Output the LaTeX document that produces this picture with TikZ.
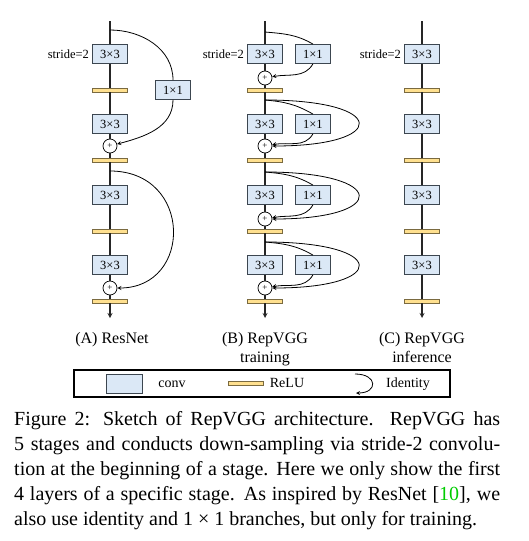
\documentclass[tikz,border=0pt]{standalone}
\usepackage{fontspec}
\setmainfont{Liberation Serif}
\usetikzlibrary{positioning}
\definecolor{convfill}{HTML}{DBE8F6}
\definecolor{convline}{HTML}{3C4650}
\definecolor{relufill}{HTML}{FFE08F}
\definecolor{reluline}{HTML}{7A6A40}
\definecolor{citegreen}{HTML}{00CC00}

\begin{document}
\begin{tikzpicture}[x=1pt,y=-1pt,>=stealth,
	every node/.style={font=\fontsize{12.5}{15}\selectfont},
	conv/.style={draw=convline,fill=convfill,line width=0.9pt,minimum width=35pt,minimum height=19pt,inner sep=0pt},
	relu/.style={draw=reluline,fill=relufill,line width=0.8pt,minimum width=35pt,minimum height=4pt,inner sep=0pt},
	addnode/.style={circle,draw,fill=white,line width=0.7pt,minimum size=14pt,inner sep=0pt,font=\fontsize{9}{9}\selectfont},
	trunk/.style={line width=1.2pt,draw=black!85},
	bypass/.style={line width=0.8pt},
	lab/.style={anchor=base,inner sep=0pt,font=\fontsize{16}{19}\selectfont},
	legtxt/.style={anchor=base,inner sep=0pt,font=\fontsize{14}{16}\selectfont}]
	\useasboundingbox (0,0) rectangle (529,541);

	% (A) ResNet
	\coordinate (atop) at (110,21);
	\node[conv] (convA1) at (110,54) {3×3};
	\node (strideA) [left=3pt of convA1,inner sep=0pt] {stride=2};
	\node[relu] (reluA1) at (110,90) {};
	\node[conv] (convA2) at (110,124) {3×3};
	\node[addnode] (addA1) at (110,146) {+};
	\node[relu] (reluA2) at (110,160) {};
	\node[conv] (convA3) at (110,195) {3×3};
	\node[relu] (reluA3) at (110,231) {};
	\node[conv] (convA4) at (110,265) {3×3};
	\node[addnode] (addA2) at (110,288) {+};
	\node[relu] (reluA4) at (110,301) {};
	\coordinate (aend) at (110,318);
	\node[conv] (oneA) at (173,90) {1×1};
	\coordinate (brA1) at (110,30);
	\coordinate (brA2) at (110,171);

	\draw[trunk] (atop) -- (convA1) -- (reluA1) -- (convA2) -- (addA1) -- (reluA2)
		-- (convA3) -- (reluA3) -- (convA4) -- (addA2) -- (reluA4);
	\draw[trunk,->] (reluA4) -- (aend);
	\draw[bypass] (brA1) to[out=0,in=90] (oneA);
	\draw[bypass,->] (oneA) to[out=-90,in=15] (addA1);
	\draw[bypass,->] (brA2) .. controls (193,171) and (193,288) .. (addA2);

	% (B) RepVGG training
	\coordinate (btop) at (265,21);
	\node[conv] (convB1) at (265,54) {3×3};
	\node (strideB) [left=3pt of convB1,inner sep=0pt] {stride=2};
	\node[conv] (oneB1) [right=12pt of convB1] {1×1};
	\node[addnode] (addB1) at (265,78) {+};
	\node[relu] (reluB1) at (265,90) {};
	\node[conv] (convB2) at (265,124) {3×3};
	\node[conv] (oneB2) [right=12pt of convB2] {1×1};
	\node[addnode] (addB2) at (265,146) {+};
	\node[relu] (reluB2) at (265,160) {};
	\node[conv] (convB3) at (265,195) {3×3};
	\node[conv] (oneB3) [right=12pt of convB3] {1×1};
	\node[addnode] (addB3) at (265,219) {+};
	\node[relu] (reluB3) at (265,231) {};
	\node[conv] (convB4) at (265,265) {3×3};
	\node[conv] (oneB4) [right=12pt of convB4] {1×1};
	\node[addnode] (addB4) at (265,288) {+};
	\node[relu] (reluB4) at (265,301) {};
	\coordinate (bend) at (265,318);
	\coordinate (brB1) at (265,32);
	\coordinate (brB2) at (265,100);
	\coordinate (brB3) at (265,172);
	\coordinate (brB4) at (265,242);

	\draw[trunk] (btop) -- (convB1) -- (addB1) -- (reluB1) -- (convB2) -- (addB2) -- (reluB2)
		-- (convB3) -- (addB3) -- (reluB3) -- (convB4) -- (addB4) -- (reluB4);
	\draw[trunk,->] (reluB4) -- (bend);
	\draw[bypass] (brB1) to[out=-5,in=150] (oneB1.north);
	\draw[bypass,->] (oneB1.south) to[out=-120,in=10] (addB1);
	\draw[bypass] (brB2) to[out=-5,in=150] (oneB2.north);
	\draw[bypass,->] (oneB2.south) to[out=-120,in=10] (addB2);
	\draw[bypass,->] (brB2) .. controls (389,100) and (389,146) .. (addB2);
	\draw[bypass] (brB3) to[out=-5,in=150] (oneB3.north);
	\draw[bypass,->] (oneB3.south) to[out=-120,in=10] (addB3);
	\draw[bypass,->] (brB3) .. controls (389,172) and (389,219) .. (addB3);
	\draw[bypass] (brB4) to[out=-5,in=150] (oneB4.north);
	\draw[bypass,->] (oneB4.south) to[out=-120,in=10] (addB4);
	\draw[bypass,->] (brB4) .. controls (389,242) and (389,288) .. (addB4);

	% (C) RepVGG inference
	\coordinate (ctop) at (422,21);
	\node[conv] (convC1) at (422,54) {3×3};
	\node (strideC) [left=3pt of convC1,inner sep=0pt] {stride=2};
	\node[relu] (reluC1) at (422,90) {};
	\node[conv] (convC2) at (422,124) {3×3};
	\node[relu] (reluC2) at (422,160) {};
	\node[conv] (convC3) at (422,195) {3×3};
	\node[relu] (reluC3) at (422,231) {};
	\node[conv] (convC4) at (422,265) {3×3};
	\node[relu] (reluC4) at (422,301) {};
	\coordinate (cend) at (422,318);

	\draw[trunk] (ctop) -- (convC1) -- (reluC1) -- (convC2) -- (reluC2)
		-- (convC3) -- (reluC3) -- (convC4) -- (reluC4);
	\draw[trunk,->] (reluC4) -- (cend);

	% labels
	\node[lab] (labA) at (112,343) {(A) ResNet};
	\node[lab] (labB) at (265,343) {(B) RepVGG};
	\node[lab] (labBb) at (265,362) {training};
	\node[lab] (labC) at (422,343) {(C) RepVGG};
	\node[lab] (labCb) at (422,362) {inference};

	% legend
	\node[draw,line width=1.8pt,minimum width=376pt,minimum height=27pt,inner sep=0pt] (legend) at (262,383.5) {};
	\node[conv,minimum width=36pt] (legconv) at (124,383.5) {};
	\node[legtxt] (legconvtxt) at (172,387) {conv};
	\node[relu] (legrelu) at (245.5,383) {};
	\node[legtxt] (legrelutxt) at (287,387) {ReLU};
	\coordinate (idA) at (355,374);
	\coordinate (idB) at (356,393);
	\draw[bypass,->] (idA) .. controls (378,374) and (378,393) .. (idB);
	\node[legtxt] (legidtxt) at (408,387) {Identity};

	% caption
	\node[anchor=north west,inner sep=0pt,text width=486pt,align=justify,
		font=\fontsize{20}{25}\selectfont] (caption) at (14,411.5)
		{Figure 2: Sketch of RepVGG architecture.\ \ RepVGG has\linebreak
		5 stages and conducts down-sampling via stride-2 convolu-\linebreak
		tion at the beginning of a stage. Here we only show the first\linebreak
		4 layers of a specific stage. As inspired by ResNet [\textcolor{citegreen}{10}], we\linebreak
		also use identity and 1 × 1 branches, but only for training.};
\end{tikzpicture}
\end{document}
